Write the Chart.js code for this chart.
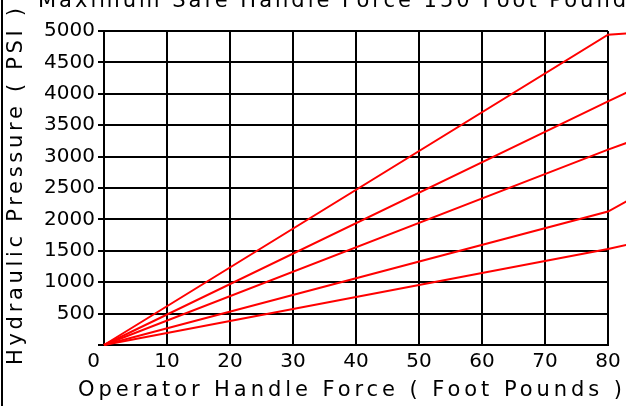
<!DOCTYPE html>
<html>
<head>
<meta charset="utf-8">
<script src="https://cdn.jsdelivr.net/npm/chart.js@4.4.1/dist/chart.umd.min.js"></script>
<style>
  html, body { margin: 0; padding: 0; background: #fff; }
  #wrap { width: 626px; height: 406px; position: relative; }
</style>
</head>
<body>
<div id="wrap"><canvas id="chart" width="626" height="406"></canvas></div>
<script>
// Operator handle force (foot pounds) at each line vertex
const handleForce = [0, 80, 83];

// Hydraulic pressure (PSI) for each pump curve
const pressure1 = [0, 4940, 4960];
const pressure2 = [0, 3880, 4020];
const pressure3 = [0, 3110, 3220];
const pressure4 = [0, 2125, 2290];
const pressure5 = [0, 1530, 1595];

const xTicks = [0, 10, 20, 30, 40, 50, 60, 70, 80];
const yTicks = [500, 1000, 1500, 2000, 2500, 3000, 3500, 4000, 4500, 5000];

const chartTitle = 'Maximum Safe Handle Force 150 Foot Pounds';
const xAxisTitle = 'Operator Handle Force ( Foot Pounds )';
const yAxisTitle = 'Hydraulic Pressure ( PSI )';
const originLabel = '0';

const FONT = '"DejaVu Sans", sans-serif';

function series(values) {
  return values.map((v, i) => ({ x: handleForce[i], y: v }));
}

function makeDataset(label, values) {
  return {
    label,
    data: series(values),
    borderColor: '#ff0000',
    borderWidth: 2,
    pointRadius: 0,
    tension: 0,
    fill: false,
    clip: false
  };
}

// Draws text stretched to a given width using letter spacing
function spacedText(ctx, text, x, y, width) {
  ctx.letterSpacing = '0px';
  const w0 = ctx.measureText(text).width;
  const sp = (width - w0) / (text.length - 1);
  ctx.letterSpacing = sp + 'px';
  ctx.fillText(text, x, y);
  ctx.letterSpacing = '0px';
}

const labelsPlugin = {
  id: 'labels',
  afterDraw(chart) {
    const ctx = chart.ctx;
    const xs = chart.scales.x;
    const ys = chart.scales.y;
    ctx.save();
    ctx.fillStyle = '#000';
    ctx.textAlign = 'left';

    // left frame line
    ctx.fillRect(1, 0, 2, chart.height);

    ctx.font = '21px ' + FONT;

    // heading, partly above the canvas
    ctx.textBaseline = 'alphabetic';
    spacedText(ctx, chartTitle, 38, 7, 602);

    // x axis title
    ctx.textBaseline = 'middle';
    spacedText(ctx, xAxisTitle, 78, 391, 544);

    // y axis title
    ctx.save();
    ctx.translate(17, 365);
    ctx.rotate(-Math.PI / 2);
    spacedText(ctx, yAxisTitle, 0, 0, 357);
    ctx.restore();

    // origin label
    ctx.font = '20px ' + FONT;
    ctx.textAlign = 'right';
    ctx.fillText(originLabel, xs.getPixelForValue(0) - 4, ys.getPixelForValue(0) + 17);
    ctx.restore();
  }
};

new Chart(document.getElementById('chart'), {
  type: 'line',
  data: {
    datasets: [
      makeDataset('Curve 1', pressure1),
      makeDataset('Curve 2', pressure2),
      makeDataset('Curve 3', pressure3),
      makeDataset('Curve 4', pressure4),
      makeDataset('Curve 5', pressure5)
    ]
  },
  options: {
    responsive: false,
    animation: false,
    layout: { padding: { left: 0, right: 18, top: 31, bottom: 0 } },
    plugins: {
      legend: { display: false },
      tooltip: { enabled: false },
      title: { display: false }
    },
    scales: {
      x: {
        type: 'linear',
        bounds: 'data',
        // axis spans 0-80; the curves run on past the last grid line
        afterDataLimits: (s) => { s.min = xTicks[0]; s.max = xTicks[xTicks.length - 1]; },
        afterBuildTicks: (s) => { s.ticks = xTicks.map(v => ({ value: v })); },
        afterFit: (s) => { s.height = 61; },
        ticks: {
          color: '#000',
          font: { family: FONT, size: 20 },
          padding: 5,
          maxRotation: 0,
          autoSkip: false,
          callback: (v) => (v === 0 ? '' : String(v))
        },
        grid: { color: '#000', lineWidth: 2, drawTicks: false },
        border: { color: '#000', width: 2 }
      },
      y: {
        type: 'linear',
        min: 0,
        max: 5000,
        afterBuildTicks: (s) => { s.ticks = [0].concat(yTicks).map(v => ({ value: v })); },
        afterFit: (s) => { s.width = 104; },
        ticks: {
          color: '#000',
          font: { family: FONT, size: 20 },
          padding: 3,
          autoSkip: false,
          callback: (v) => (v === 0 ? '' : String(v))
        },
        grid: { color: '#000', lineWidth: 2, drawTicks: true, tickLength: 6 },
        border: { color: '#000', width: 2 }
      }
    }
  },
  plugins: [labelsPlugin]
});
</script>
</body>
</html>
